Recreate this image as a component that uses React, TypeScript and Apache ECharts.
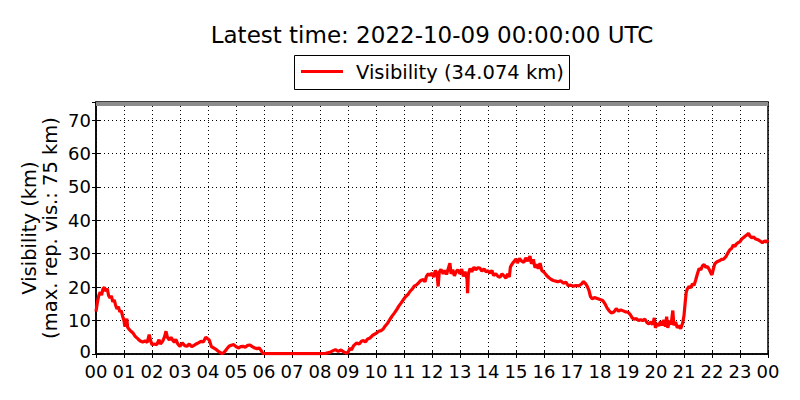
import React, { useEffect, useRef } from "react";
import * as echarts from "echarts";

const TITLE = "Latest time: 2022-10-09 00:00:00 UTC";
const LEGEND_TEXT = "Visibility (34.074 km)";
const Y_NAME_1 = "Visibility (km)";
const Y_NAME_2 = "(max. rep. vis.: 75 km)";
const MAX_REP_VIS = 75;

const hourLabels = [
  "00", "01", "02", "03", "04", "05", "06", "07", "08", "09", "10", "11", "12",
  "13", "14", "15", "16", "17", "18", "19", "20", "21", "22", "23", "00",
];
const yTickLabels = ["0", "10", "20", "30", "40", "50", "60", "70"];

// time in hours since 00:00 UTC
const times = [
  0.0, 0.05, 0.1, 0.15, 0.2, 0.25, 0.3, 0.35, 0.4, 0.45, 0.5, 0.55, 0.6, 0.65, 0.7, 0.75, 0.8, 0.85, 0.9, 0.95,
  1.0, 1.03, 1.07, 1.1, 1.13, 1.17, 1.25, 1.33, 1.4, 1.5, 1.58, 1.67, 1.75, 1.83, 1.9, 1.95,
  2.0, 2.08, 2.17, 2.25, 2.3, 2.38, 2.45, 2.5, 2.55, 2.62, 2.68, 2.75, 2.8, 2.85, 2.92,
  3.0, 3.08, 3.17, 3.25, 3.33, 3.42, 3.5, 3.58, 3.67, 3.75, 3.83, 3.92,
  4.0, 4.05, 4.12, 4.2, 4.3, 4.4, 4.5, 4.58, 4.67, 4.75, 4.83, 4.92,
  5.0, 5.08, 5.17, 5.25, 5.33, 5.42, 5.5, 5.58, 5.67, 5.75, 5.83, 5.9, 5.95,
  6.0, 6.5, 7.0, 7.5, 8.0, 8.2, 8.35, 8.47, 8.55, 8.65, 8.75, 8.85, 8.95,
  9.02, 9.07, 9.12, 9.2, 9.31, 9.4, 9.48, 9.55, 9.62, 9.7, 9.79, 9.88, 9.95,
  10.02, 10.1, 10.18, 10.26, 10.33, 10.42, 10.5, 10.58, 10.66, 10.74, 10.82, 10.9, 10.98,
  11.06, 11.14, 11.21, 11.3, 11.38, 11.45, 11.52, 11.6, 11.69, 11.75, 11.8, 11.87, 11.93,
  12.0, 12.06, 12.12, 12.18, 12.22, 12.26, 12.32, 12.4, 12.46, 12.52, 12.58, 12.64, 12.68, 12.74, 12.8, 12.86, 12.92,
  13.0, 13.06, 13.12, 13.18, 13.25, 13.27, 13.3, 13.36, 13.42, 13.5, 13.56, 13.64, 13.71, 13.78, 13.86, 13.93,
  14.0, 14.07, 14.14, 14.2, 14.28, 14.36, 14.43, 14.5, 14.57, 14.64, 14.7, 14.76, 14.8, 14.85, 14.92,
  15.0, 15.05, 15.12, 15.2, 15.28, 15.35, 15.42, 15.5, 15.55, 15.62, 15.68, 15.74, 15.8, 15.86, 15.92,
  16.0, 16.1, 16.18, 16.26, 16.33, 16.42, 16.5, 16.6, 16.69, 16.78, 16.87, 16.95,
  17.05, 17.15, 17.25, 17.35, 17.4, 17.47, 17.54, 17.6, 17.66, 17.72, 17.8, 17.9,
  18.0, 18.1, 18.18, 18.25, 18.32, 18.4, 18.5, 18.58, 18.66, 18.74, 18.83, 18.92,
  19.0, 19.08, 19.15, 19.22, 19.3, 19.38, 19.45, 19.52, 19.6, 19.68, 19.75, 19.82, 19.88, 19.94, 19.98,
  20.04, 20.1, 20.16, 20.22, 20.28, 20.34, 20.38, 20.42, 20.48, 20.54, 20.6, 20.64, 20.7, 20.76, 20.82, 20.88, 20.95,
  21.0, 21.04, 21.08, 21.12, 21.18, 21.24, 21.3, 21.36, 21.42, 21.48, 21.54, 21.6, 21.66, 21.72, 21.78, 21.84, 21.9, 21.96,
  22.0, 22.05, 22.1, 22.18, 22.26, 22.34, 22.42, 22.5, 22.58, 22.64, 22.7, 22.76, 22.82, 22.88, 22.95,
  23.0, 23.06, 23.12, 23.18, 23.24, 23.3, 23.36, 23.42, 23.48, 23.56, 23.64, 23.72, 23.8, 23.88, 23.95, 24.0,
];

// visibility in km
const vis = [
  12.7, 15.5, 17.5, 18.5, 17.6, 19.5, 20.0, 18.8, 19.6, 17.5, 16.8, 17.4, 15.6, 16.2, 14.6, 13.5, 14.2, 12.6, 13.0, 11.3,
  10.0, 8.2, 9.5, 10.6, 8.0, 7.5, 6.8, 6.2, 5.3, 4.5, 3.9, 3.6, 3.9, 3.5, 5.8, 4.0,
  2.8, 3.0, 2.8, 4.3, 3.0, 3.8, 5.2, 6.8, 5.0, 4.2, 5.0, 4.0, 3.5, 4.4, 3.0,
  2.3, 3.3, 2.5, 2.3, 3.0, 2.2, 2.6, 3.0, 3.4, 3.8, 3.6, 5.0,
  4.5, 4.1, 2.2, 1.8, 1.3, 0.6, 0.1, 0.5, 1.5, 2.3, 2.6, 2.8,
  2.2, 1.8, 2.2, 2.3, 2.0, 2.6, 2.7, 2.2, 1.8, 1.6, 1.8, 1.0, 0.3,
  0.1, 0.1, 0.1, 0.15, 0.1, 0.2, 0.5, 1.0, 1.3, 0.8, 1.2, 0.6, 0.2,
  0.8, 1.8, 1.2, 2.5, 3.3, 3.0, 3.8, 4.0, 3.6, 4.5, 4.8, 5.6, 5.9,
  6.3, 6.8, 7.0, 7.5, 8.4, 9.3, 10.4, 11.4, 12.3, 13.3, 14.4, 15.3, 16.3,
  17.2, 17.8, 18.7, 19.5, 20.4, 20.7, 21.3, 22.0, 22.3, 21.6, 23.2, 24.0, 23.5,
  24.2, 23.0, 25.0, 24.0, 20.2, 24.5, 25.3, 24.0, 25.0, 23.8, 25.5, 27.2, 24.0, 25.2, 23.4, 24.6, 25.2,
  24.0, 25.4, 23.2, 24.6, 22.5, 18.2, 24.0, 25.6, 24.6, 26.0, 25.2, 25.8, 25.7, 24.8, 25.5, 24.6,
  24.9, 24.2, 25.0, 23.5, 24.0, 23.2, 23.0, 24.0, 23.4, 22.7, 24.0, 23.0, 26.0, 26.8, 27.6,
  28.4, 27.2, 28.6, 27.8, 27.4, 28.8, 27.8, 29.3, 27.0, 28.3, 25.8, 26.8, 25.5, 27.2, 25.0,
  24.5, 23.4, 22.8, 22.3, 22.0, 21.8, 21.6, 21.9, 21.2, 21.5, 20.4, 20.6,
  20.3, 20.5, 20.4, 21.0, 21.7, 21.2, 20.3, 19.2, 17.2, 16.5, 16.9, 16.6,
  16.3, 16.0, 15.0, 13.8, 13.0, 12.3, 12.6, 13.6, 12.8, 13.2, 12.9, 12.6,
  12.5, 11.8, 10.8, 10.4, 10.6, 10.0, 10.3, 10.0, 10.4, 9.4, 9.0, 9.6, 8.8, 10.8, 7.8,
  9.2, 8.4, 9.8, 8.6, 10.2, 8.2, 11.2, 7.8, 10.0, 8.8, 13.0, 8.6, 9.6, 7.8, 8.5, 7.6, 9.2,
  11.5, 15.2, 18.5, 19.5, 20.2, 19.8, 21.0, 20.6, 22.2, 24.0, 25.6, 25.2, 26.4, 26.8, 25.9, 26.2, 25.3, 24.2,
  23.7, 25.5, 27.0, 27.6, 27.9, 28.3, 28.4, 29.2, 30.4, 31.2, 31.6, 32.6, 32.2, 33.0, 33.4,
  33.6, 34.4, 34.8, 35.2, 35.6, 36.1, 35.2, 34.8, 35.0, 34.4, 34.2, 33.8, 33.3, 33.8, 33.5, 34.074,
];

const FONT = '"DejaVu Sans", sans-serif';

export default function App() {
  const ref = useRef<HTMLDivElement>(null);

  useEffect(() => {
    document.body.style.margin = "0";
    const chart = echarts.init(ref.current as HTMLDivElement, null, { renderer: "svg" });
    const seriesData = times.map((t, i) => [t, vis[i]]);
    const dotted = { color: "#000", width: 1, type: [1, 3] as any };
    const yMax = 75.4;

    chart.setOption({
      animation: false,
      backgroundColor: "#fff",
      grid: {
        left: 96,
        right: 32,
        top: 102,
        bottom: 46,
        show: true,
        borderColor: "#000",
        borderWidth: 1.5,
        backgroundColor: "transparent",
      },
      xAxis: [
        {
          type: "value",
          min: 0,
          max: 24,
          interval: 1,
          axisLine: { show: true, lineStyle: { color: "#000", width: 1.5 } },
          axisTick: { show: true, inside: true, length: 4, lineStyle: { color: "#000" } },
          axisLabel: {
            color: "#000",
            fontFamily: FONT,
            fontSize: 18,
            lineHeight: 12,
            margin: 11,
            formatter: (v: number) => hourLabels[Math.round(v)] ?? "",
          },
          splitLine: { show: true, lineStyle: dotted },
        },
        {
          type: "value",
          position: "top",
          min: 0,
          max: 24,
          interval: 1,
          axisLine: { show: false },
          axisTick: { show: true, inside: true, length: 4, lineStyle: { color: "#000" } },
          axisLabel: { show: false },
          splitLine: { show: false },
        },
      ],
      yAxis: [
        {
          type: "value",
          min: 0,
          max: yMax,
          interval: 10,
          axisLine: { show: true, lineStyle: { color: "#000", width: 1.5 } },
          axisTick: { show: true, inside: true, length: 4, lineStyle: { color: "#000" } },
          axisLabel: {
            color: "#000",
            fontFamily: FONT,
            fontSize: 18,
            lineHeight: 12,
            margin: 5,
            showMaxLabel: false,
            formatter: (v: number) => {
              const idx = Math.round(v / 10);
              if (Math.abs(v - idx * 10) > 1e-6) return "";
              const label = yTickLabels[idx] ?? "";
              return idx === 0 ? `{z|${label}}` : label;
            },
            rich: {
              z: {
                color: "#000",
                fontFamily: FONT,
                fontSize: 18,
                lineHeight: 12,
                padding: [0, 0, 6, 0],
              },
            },
          },
          splitLine: { show: true, lineStyle: dotted },
        },
        {
          type: "value",
          position: "right",
          min: 0,
          max: yMax,
          interval: 10,
          axisLine: { show: false },
          axisTick: { show: true, inside: true, length: 4, lineStyle: { color: "#000" } },
          axisLabel: { show: false },
          splitLine: { show: false },
        },
      ],
      series: [
        {
          name: "Visibility",
          type: "line",
          xAxisIndex: 0,
          yAxisIndex: 0,
          data: seriesData,
          symbol: "none",
          showSymbol: false,
          smooth: false,
          lineStyle: { color: "#ff0000", width: 3.2 },
          itemStyle: { color: "#ff0000" },
          markLine: {
            silent: true,
            symbol: "none",
            label: { show: false },
            lineStyle: { color: "#8c8c8c", width: 4, type: "solid" },
            data: [{ yAxis: MAX_REP_VIS }],
          },
        },
      ],
      graphic: [
        {
          type: "text",
          x: 432,
          y: 35,
          style: {
            text: TITLE,
            fill: "#000",
            fontFamily: FONT,
            fontSize: 23,
            align: "center",
            verticalAlign: "middle",
          },
        },
        {
          type: "group",
          children: [
            {
              type: "rect",
              shape: { x: 294.5, y: 55.5, width: 275, height: 34 },
              style: { fill: "#fff", stroke: "#000", lineWidth: 1 },
            },
            {
              type: "line",
              shape: { x1: 301, y1: 71.5, x2: 343, y2: 71.5 },
              style: { stroke: "#ff0000", lineWidth: 3 },
            },
            {
              type: "text",
              x: 356,
              y: 72,
              style: {
                text: LEGEND_TEXT,
                fill: "#000",
                fontFamily: FONT,
                fontSize: 19.5,
                align: "left",
                verticalAlign: "middle",
              },
            },
          ],
        },
        {
          type: "text",
          x: 29,
          y: 228,
          rotation: Math.PI / 2,
          style: {
            text: Y_NAME_1,
            fill: "#000",
            fontFamily: FONT,
            fontSize: 19.5,
            align: "center",
            verticalAlign: "middle",
          },
        },
        {
          type: "text",
          x: 50,
          y: 228,
          rotation: Math.PI / 2,
          style: {
            text: Y_NAME_2,
            fill: "#000",
            fontFamily: FONT,
            fontSize: 19.5,
            align: "center",
            verticalAlign: "middle",
          },
        },
      ],
    });

    return () => chart.dispose();
  }, []);

  return <div ref={ref} style={{ width: 800, height: 400 }} />;
}
